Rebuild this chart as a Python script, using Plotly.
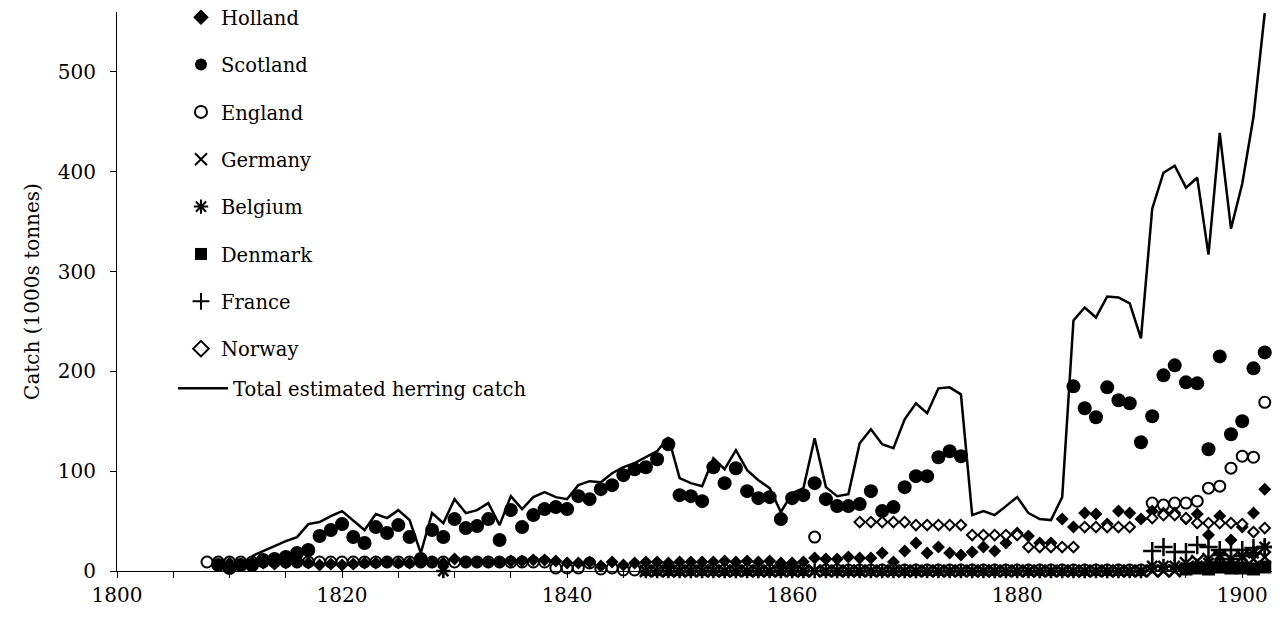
import plotly.graph_objects as go

FONT = "DejaVu Serif"
FS = 20
LFS = 19.5

total_years = list(range(1812, 1903))
total_vals = [15, 20, 25, 30, 34, 47, 49, 55, 60, 50, 41, 57, 53, 61, 51, 18, 58, 48, 72, 58,
              61, 68, 46, 75, 62, 74, 79, 74, 72, 86, 90, 89, 98, 104, 108, 114, 120, 134, 93, 88,
              85, 113, 102, 121, 101, 91, 83, 59, 78, 83, 133, 84, 75, 77, 128, 142, 127, 123, 152, 168,
              158, 183, 184, 177, 56, 60, 56, 65, 74, 58, 52, 51, 74, 251, 264, 254, 275, 274, 268, 233,
              363, 399, 406, 384, 394, 317, 439, 343, 388, 455, 559]

scot_years = list(range(1809, 1876)) + list(range(1885, 1903))
scot_vals = [6, 3, 6, 6, 11, 12, 14, 18, 21, 35, 41, 47, 34, 28, 44, 38, 46, 34, 12, 41,
             34, 52, 43, 45, 52, 31, 61, 44, 56, 62, 64, 62, 75, 72, 82, 86, 96, 102, 104, 112,
             127, 76, 75, 70, 104, 88, 103, 80, 73, 74, 52, 73, 76, 88, 72, 65, 65, 67, 80, 60,
             64, 84, 95, 95, 114, 120, 115,
             185, 163, 154, 184, 171, 168, 129, 155, 196, 206, 189, 188, 122, 215, 137, 150, 203, 219]

holl_years = list(range(1810, 1903))
holl_vals = [8, 7, 8, 8, 7, 8, 9, 8, 6, 7, 6, 7, 8, 8, 9, 8, 8, 9, 9, 8,
             12, 9, 9, 9, 9, 10, 10, 11, 11, 10, 8, 8, 9, 5, 9, 6, 8, 9, 9, 8,
             9, 9, 9, 9, 10, 9, 10, 9, 10, 8, 8, 9,
             13, 12, 12, 14, 13, 13, 18, 9, 20, 28, 18, 24, 18, 16, 19, 24, 20, 28, 38, 35,
             28, 28, 52, 44, 58, 57, 47, 60, 58, 52, 60, 58, 58, 52, 57, 36, 55, 31, 44, 58, 82]

eng_years = list(range(1808, 1903))
eng_vals = [9] * 31 + [3, 3, 3, 8, 2, 3] + [1] * 17 + [34] + [1] * 29 + \
           [68, 66, 68, 68, 70, 83, 85, 103, 115, 114, 169]

ger_years = list(range(1847, 1903))
ger_vals = [0] * 48 + [8, 10, 12, 14, 12, 14, 12, 14]

bel_years = [1829] + list(range(1847, 1903))
bel_vals = [0] + [0] * 45 + [5, 5, 5, 3, 5, 8, 16, 12, 15, 18, 24]

den_years = list(range(1895, 1903))
den_vals = [2, 3, 2, 4, 3, 3, 2, 4]

fra_years = list(range(1892, 1903))
fra_vals = [20, 24, 19, 19, 26, 24, 21, 21, 21, 23, 24]

nor_years = list(range(1866, 1891)) + list(range(1892, 1903))
nor_vals = [49, 49, 49, 49, 49, 46, 46, 46, 46, 46, 36, 36, 36, 36, 36, 24, 24, 24, 24, 24,
            44, 44, 44, 44, 44,
            53, 56, 56, 53, 48, 48, 48, 48, 47, 39, 43]

fig = go.Figure()

def add_markers(name, rank, xs, ys, symbol, size, fill, lw=0):
    fig.add_trace(go.Scatter(
        x=xs, y=ys, name=name, mode="markers", legendgroup=name, legendrank=rank,
        cliponaxis=False,
        marker=dict(symbol=symbol, size=size, color=fill,
                    line=dict(color="black", width=lw)),
    ))

# drawing order (bottom to top); legendrank keeps the legend order
add_markers("England", 3, eng_years, eng_vals, "circle", 11, "white", 2)
add_markers("Germany", 4, ger_years, ger_vals, "x-thin", 12, "black", 2.5)
add_markers("Belgium", 5, bel_years, bel_vals, "asterisk", 12, "black", 2.5)
add_markers("Holland", 1, holl_years, holl_vals, "diamond", 10, "black")
add_markers("Scotland", 2, scot_years, scot_vals, "circle", 14, "black")
add_markers("Denmark", 6, den_years, den_vals, "square", 13, "black")
add_markers("France", 7, fra_years, fra_vals, "cross-thin", 13, "black", 2.5)
add_markers("Norway", 8, nor_years, nor_vals, "diamond", 8, "white", 2)

fig.add_trace(go.Scatter(
    x=total_years, y=total_vals, name="Total estimated herring catch",
    mode="lines", legend="legend2", cliponaxis=False,
    line=dict(color="black", width=2.5),
))

# the page body adds an 8 px offset, so the figure is 8 px smaller on each side
fig.update_layout(
    template="none",
    width=1272, height=609,
    margin=dict(l=109, r=4, t=4, b=46, autoexpand=False),
    paper_bgcolor="white", plot_bgcolor="white",
    font=dict(family=FONT, size=FS, color="black"),
    showlegend=True,
    legend=dict(x=0.0552, y=1.025, xanchor="left", yanchor="top",
                bgcolor="rgba(0,0,0,0)", borderwidth=0, font=dict(family=FONT, size=LFS),
                tracegroupgap=19, itemsizing="constant", maxheight=2000),
    legend2=dict(x=0.0483, y=0.3614, xanchor="left", yanchor="top", itemwidth=50,
                 bgcolor="rgba(0,0,0,0)", borderwidth=0, font=dict(family=FONT, size=LFS)),
    xaxis=dict(range=[1800, 1903], tick0=1800, dtick=20, ticks="outside", ticklen=6,
               tickcolor="black", tickwidth=1, showline=True, linecolor="black", linewidth=1,
               showgrid=False, zeroline=False, automargin=False,
               tickfont=dict(family=FONT, size=FS),
               minor=dict(dtick=5, tick0=1800, ticks="outside", ticklen=6,
                          tickcolor="black", tickwidth=1, showgrid=False)),
    yaxis=dict(range=[0, 560], dtick=100, ticks="outside", ticklen=6,
               tickcolor="black", tickwidth=1, showline=True, linecolor="black", linewidth=1,
               showgrid=False, zeroline=False, automargin=False, ticklabelstandoff=10,
               tickfont=dict(family=FONT, size=FS),
               title=dict(text="Catch (1000s tonnes)", font=dict(family=FONT, size=FS),
                          standoff=12)),
)

fig.write_html("out.html")
